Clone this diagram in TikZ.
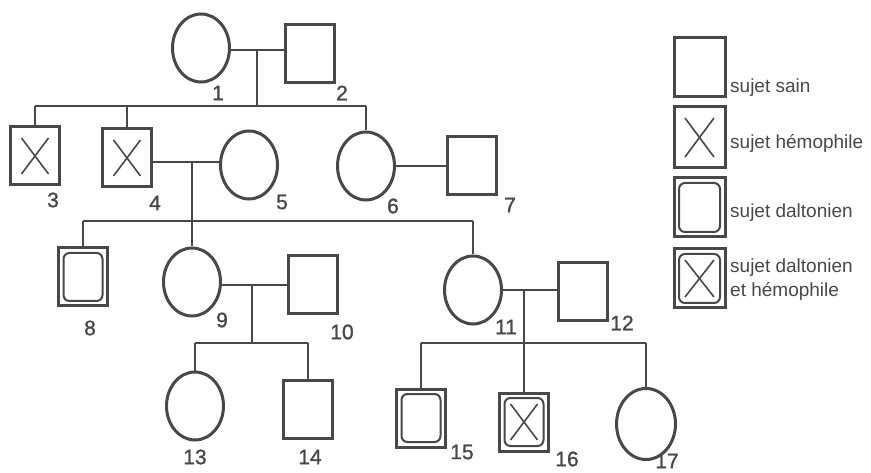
\documentclass[tikz,border=0pt]{standalone}
\usepackage{fontspec}
\setmainfont{Liberation Sans}
\newfontfamily\numfont[FakeBold=1.2]{Liberation Sans}
\usetikzlibrary{shapes.geometric}
\definecolor{ink}{HTML}{484848}
\begin{document}
\begin{tikzpicture}[x=1pt,y=-1pt,
  line/.style={draw=ink, line width=1.6pt},
  female/.style={ellipse, draw=ink, line width=3pt, minimum width=57pt, minimum height=68pt, inner sep=0pt},
  male/.style={rectangle, draw=ink, line width=3pt, minimum width=49pt, minimum height=58pt, inner sep=0pt},
  xmark/.style={path picture={\draw[ink, line width=1.6pt]
      ([shift={(11pt,-11pt)}]path picture bounding box.north west) -- ([shift={(-11pt,11pt)}]path picture bounding box.south east)
      ([shift={(-11pt,-11pt)}]path picture bounding box.north east) -- ([shift={(11pt,11pt)}]path picture bounding box.south west);}},
  omark/.style={path picture={\draw[ink, line width=2pt, rounded corners=6pt]
      ([shift={(5pt,-5pt)}]path picture bounding box.north west) rectangle ([shift={(-5pt,5pt)}]path picture bounding box.south east);}},
  hemo/.style={male, xmark},
  dalt/.style={male, omark},
  both/.style={male, path picture={\draw[ink, line width=2pt, rounded corners=6pt]
      ([shift={(5pt,-5pt)}]path picture bounding box.north west) rectangle ([shift={(-5pt,5pt)}]path picture bounding box.south east);
      \draw[ink, line width=1.6pt]
      ([shift={(11pt,-11pt)}]path picture bounding box.north west) -- ([shift={(-11pt,11pt)}]path picture bounding box.south east)
      ([shift={(-11pt,-11pt)}]path picture bounding box.north east) -- ([shift={(11pt,11pt)}]path picture bounding box.south west);}},
  num/.style={font=\numfont\fontsize{21}{21}\selectfont, text=ink, inner sep=0pt},
  leg/.style={font=\fontsize{19}{24}\selectfont, text=ink, inner sep=0pt, anchor=west, align=left}
]
\useasboundingbox[fill=white] (0,0) rectangle (871,473);

% individuals
\node[female] (n1) at (201,48) {};
\node[male] (n2) at (309.5,54) {};
\node[hemo] (n3) at (35,156) {};
\node[hemo] (n4) at (127,158) {};
\node[female] (n5) at (249,165) {};
\node[female] (n6) at (366,166) {};
\node[male] (n7) at (472,166) {};
\node[dalt] (n8) at (83,277) {};
\node[female] (n9) at (192,282) {};
\node[male] (n10) at (313,285) {};
\node[female] (n11) at (473,290) {};
\node[male] (n12) at (583,292) {};
\node[female] (n13) at (195,406) {};
\node[male] (n14) at (308,409) {};
\node[dalt] (n15) at (421,418) {};
\node[both] (n16) at (524,422) {};
\node[female, minimum width=59pt, minimum height=71pt] (n17) at (646,424) {};

% labels
\node[num] (t1) at (218,93) {1};
\node[num] (t2) at (342,93) {2};
\node[num] (t3) at (53,200) {3};
\node[num] (t4) at (155,203) {4};
\node[num] (t5) at (282,202) {5};
\node[num] (t6) at (393,206) {6};
\node[num] (t7) at (510,205) {7};
\node[num] (t8) at (90,328) {8};
\node[num] (t9) at (222,320) {9};
\node[num] (t10) at (342,332) {10};
\node[num] (t11) at (506,327) {11};
\node[num] (t12) at (622,323) {12};
\node[num] (t13) at (195,457) {13};
\node[num] (t14) at (310,457) {14};
\node[num] (t15) at (462,452) {15};
\node[num] (t16) at (567,459) {16};
\node[num] (t17) at (667,461) {17};

% coordinates
\coordinate (m12) at (257,50);
\coordinate (s1a) at (35,106);
\coordinate (s1b) at (366,106);
\coordinate (m45) at (192,162);
\coordinate (s2a) at (83,221);
\coordinate (s2b) at (473,221);
\coordinate (m910) at (252,285);
\coordinate (s3a) at (195,343);
\coordinate (s3b) at (308,343);
\coordinate (m1112) at (524,290);
\coordinate (s4a) at (421,343);
\coordinate (s4b) at (646,343);

% connectors
\draw[line] (n1.east |- m12) -- (n2.west |- m12);
\draw[line] (m12) -- (m12 |- s1a);
\draw[line] (s1a) -- (s1b);
\draw[line] (s1a) -- (n3.north);
\draw[line] (n4.north |- s1a) -- (n4.north);
\draw[line] (s1b) -- (n6.north);

\draw[line] (n4.east |- m45) -- (n5.west |- m45);
\draw[line] (m45) -- (n9.north);
\draw[line] (n6.east) -- (n7.west);
\draw[line] (s2a) -- (s2b);
\draw[line] (s2a) -- (n8.north);
\draw[line] (s2b) -- (n11.north);

\draw[line] (n9.east |- m910) -- (n10.west |- m910);
\draw[line] (m910) -- (m910 |- s3a);
\draw[line] (s3a) -- (s3b);
\draw[line] (s3a) -- (n13.north);
\draw[line] (s3b) -- (n14.north);

\draw[line] (n11.east |- m1112) -- (n12.west |- m1112);
\draw[line] (m1112) -- (n16.north);
\draw[line] (s4a) -- (s4b);
\draw[line] (s4a) -- (n15.north);
\draw[line] (s4b) -- (n17.north);

% legend
\node[male, minimum width=51pt, minimum height=59pt] (l1) at (699.5,67.5) {};
\node[hemo, minimum width=51pt, minimum height=61pt] (l2) at (699.5,137.5) {};
\node[dalt, minimum width=51pt, minimum height=59pt] (l3) at (699.5,207.5) {};
\node[both, minimum width=51pt, minimum height=59pt] (l4) at (699.5,278.5) {};
\node[leg] (lt1) at (730,88) {sujet sain};
\node[leg] (lt2) at (730,143) {sujet hémophile};
\node[leg] (lt3) at (730,213) {sujet daltonien};
\node[leg] (lt4) at (730,280) {sujet daltonien\\et hémophile};
\end{tikzpicture}
\end{document}
